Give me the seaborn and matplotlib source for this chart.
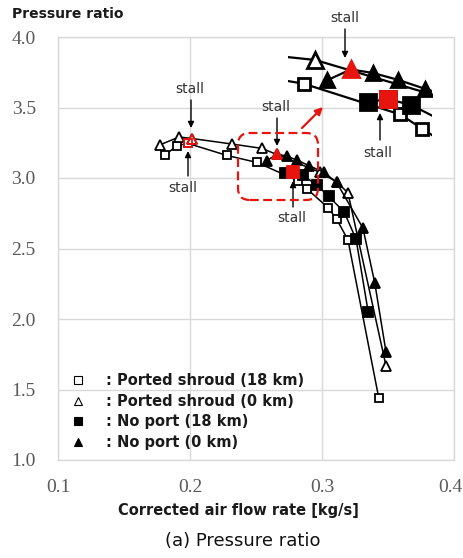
import matplotlib
matplotlib.use("Agg")
import matplotlib.pyplot as plt
import matplotlib.transforms as mtransforms
import seaborn as sns
from matplotlib.lines import Line2D
from matplotlib.patches import FancyBboxPatch

# ---------------- data ----------------
# Ported shroud (18 km) - open squares
ps18_x = [0.181, 0.190, 0.1985, 0.228, 0.2508, 0.282, 0.289, 0.3045, 0.311, 0.3197, 0.343]
ps18_y = [3.16, 3.23, 3.245, 3.16, 3.11, 2.98, 2.92, 2.79, 2.71, 2.56, 1.44]
ps18_stall = 2
# Ported shroud (0 km) - open triangles
ps0_x = [0.177, 0.1917, 0.2015, 0.2318, 0.2545, 0.2985, 0.3114, 0.3197, 0.3485]
ps0_y = [3.234, 3.291, 3.28, 3.241, 3.21, 3.04, 2.97, 2.894, 1.667]
ps0_stall = 2
# No port (18 km) - filled squares
np18_x = [0.2716, 0.278, 0.2855, 0.296, 0.305, 0.3167, 0.3258, 0.335]
np18_y = [3.033, 3.045, 3.02, 2.95, 2.87, 2.76, 2.567, 2.05]
np18_stall = 1
# No port (0 km) - filled triangles
np0_x = [0.2584, 0.266, 0.2732, 0.2813, 0.2900, 0.3015, 0.311, 0.331, 0.340, 0.3485]
np0_y = [3.124, 3.17, 3.155, 3.126, 3.088, 3.04, 2.97, 2.645, 2.255, 1.766]
np0_stall = 1

legend_labels = [": Ported shroud (18 km)", ": Ported shroud (0 km)",
                 ": No port (18 km)", ": No port (0 km)"]
x_ticks = [0.1, 0.2, 0.3, 0.4]
y_ticks = [1.0, 1.5, 2.0, 2.5, 3.0, 3.5, 4.0]

# ---------------- style ----------------
sns.set_theme(style="whitegrid")
plt.rcParams["font.family"] = ["DejaVu Sans"]

RED = "#e8150f"
GRID = "#d9d9d9"
TICKC = "#595959"

fig = plt.figure(figsize=(4.64, 5.58), dpi=100)
W, H = 464, 558
ax = fig.add_axes([58 / W, (H - 460) / H, 396 / W, 423 / H])
ax.set_xlim(0.1, 0.4)
ax.set_ylim(1.0, 4.0)
ax.set_facecolor("white")
ax.grid(True, color=GRID, lw=1.0)
for s in ax.spines.values():
    s.set_color(GRID)
    s.set_linewidth(1.0)
ax.set_xticks(x_ticks)
ax.set_yticks(y_ticks)
ax.set_xticklabels([f"{v:.1f}" for v in x_ticks])
ax.set_yticklabels([f"{v:.1f}" for v in y_ticks])
ax.tick_params(axis="both", length=0, labelcolor=TICKC, labelsize=14)
ax.tick_params(axis="x", pad=14)
ax.tick_params(axis="y", pad=16)
for lab in ax.get_xticklabels() + ax.get_yticklabels():
    lab.set_fontfamily(["Liberation Serif", "DejaVu Serif"])
# keep the last x tick label inside the canvas
last = ax.get_xticklabels()[-1]
last.set_transform(last.get_transform() +
                   mtransforms.ScaledTranslation(-4 / 100, 0, fig.dpi_scale_trans))
ax.set_xlabel("")
ax.set_ylabel("")

series = [
    (ps18_x, ps18_y, ps18_stall, "s", "white"),
    (ps0_x, ps0_y, ps0_stall, "^", "white"),
    (np18_x, np18_y, np18_stall, "s", "black"),
    (np0_x, np0_y, np0_stall, "^", "black"),
]


def draw_series(target, big):
    if big:
        lw, mew = 1.6, 2.0
        sizes = {("s", "white"): 9, ("^", "white"): 11, ("s", "black"): 11, ("^", "black"): 10}
        stall_sizes = {("s", "white"): 9, ("^", "white"): 11, ("s", "black"): 11, ("^", "black"): 12}
    else:
        lw, mew = 1.1, 1.3
        sizes = {("s", "white"): 5.5, ("^", "white"): 7, ("s", "black"): 6.5, ("^", "black"): 6.5}
        stall_sizes = {("s", "white"): 6, ("^", "white"): 7.5, ("s", "black"): 8, ("^", "black"): 7.5}
    for xs, ys, si, mk, fc in series:
        sns.lineplot(x=xs, y=ys, ax=target, sort=False, estimator=None,
                     color="black", linewidth=lw, marker=mk,
                     markersize=sizes[(mk, fc)], markerfacecolor=fc,
                     markeredgecolor="black", markeredgewidth=mew, legend=False)
    for xs, ys, si, mk, fc in series:
        face = "none" if fc == "white" else RED
        target.plot([xs[si]], [ys[si]], ls="none", marker=mk,
                    markersize=stall_sizes[(mk, fc)], markerfacecolor=face,
                    markeredgecolor=RED, markeredgewidth=mew, zorder=5)


draw_series(ax, big=False)

# ---------------- magnified inset (frameless) ----------------
ax_in = fig.add_axes([288 / W, (H - 142) / H, 144 / W, 97 / H])
ax_in.set_xlim(0.2458, 0.2922)
ax_in.set_ylim(2.864, 3.273)
ax_in.axis("off")
ax_in.patch.set_alpha(0)
draw_series(ax_in, big=True)


# ---------------- annotations ----------------
def px2d(px, py):
    return 0.1 + (px - 58) / 1320.0, 4.0 - (py - 37) / 141.0


stall_notes = [
    # text centre px, arrow tail px, arrow tip px
    ((345, 18), (345, 29), (345, 58)),
    ((190, 89), (191, 100), (191, 128)),
    ((183, 188), (188, 176), (188, 151)),
    ((276, 107), (277, 118), (277, 146)),
    ((292, 218), (293, 207), (293, 181)),
    ((378, 153), (380, 140), (380, 113)),
]
for (tx, ty), tail, tip in stall_notes:
    xt, yt = px2d(tx, ty)
    ax.text(xt, yt, "stall", ha="center", va="center", fontsize=10,
            color="#333333", clip_on=False)
    ax.annotate("", xy=px2d(*tip), xytext=px2d(*tail),
                arrowprops=dict(arrowstyle="-|>", color="black", lw=1.0,
                                mutation_scale=9, shrinkA=0, shrinkB=0),
                annotation_clip=False)

# dashed rounded box around the magnified region
bx0, by0 = px2d(238, 200)
bx1, by1 = px2d(318, 133)
fx0 = (bx0 - 0.1) / 0.3
fx1 = (bx1 - 0.1) / 0.3
fy0 = (by0 - 1.0) / 3.0
fy1 = (by1 - 1.0) / 3.0
box = FancyBboxPatch((fx0, fy0), fx1 - fx0, fy1 - fy0,
                     boxstyle="round,pad=0,rounding_size=0.03",
                     transform=ax.transAxes, fill=False, edgecolor=RED,
                     linewidth=1.6, linestyle=(0, (4, 2)), zorder=6,
                     mutation_aspect=396 / 423)
ax.add_patch(box)
ax.annotate("", xy=px2d(323, 107), xytext=px2d(302, 128),
            arrowprops=dict(arrowstyle="-|>", color=RED, lw=1.6,
                            mutation_scale=11, shrinkA=0, shrinkB=0))

# ---------------- legend ----------------
def handle(mk, fc):
    return Line2D([], [], ls="none", marker=mk, markersize=6, markerfacecolor=fc,
                  markeredgecolor="black", markeredgewidth=0.8)


handles = [handle("s", "white"), handle("^", "white"),
           handle("s", "black"), handle("^", "black")]
leg = ax.legend(handles, legend_labels, loc="lower left",
                bbox_to_anchor=((70.7 - 58) / 396, (460 - 450) / 423),
                frameon=False, handlelength=1.0, handletextpad=1.45,
                labelspacing=0.39, borderpad=0, borderaxespad=0,
                prop={"weight": "bold", "size": 10.5})
for t in leg.get_texts():
    t.set_color("#1a1a1a")

# ---------------- titles ----------------
fig.text(12 / W, 1 - 14 / H, "Pressure ratio", ha="left", va="center",
         fontsize=10, fontweight="bold", color="#1a1a1a")
fig.text(238 / W, 1 - 510 / H, "Corrected air flow rate [kg/s]", ha="center",
         va="center", fontsize=10.5, fontweight="bold", color="#1a1a1a")
fig.text(243 / W, 1 - 541 / H, "(a) Pressure ratio", ha="center", va="center",
         fontsize=13, color="#111111",
         family=["Liberation Sans Narrow", "DejaVu Sans"])

fig.savefig("out.png", dpi=100)
